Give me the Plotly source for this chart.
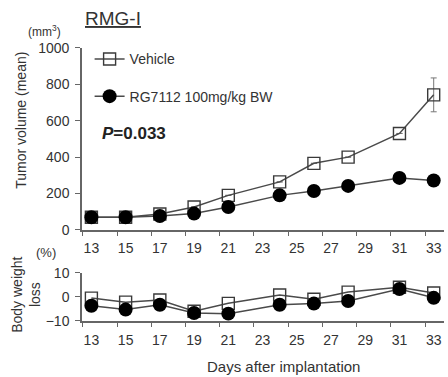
import plotly.graph_objects as go

days = [13, 15, 17, 19, 21, 24, 26, 28, 31, 33]
vehicle_tv = [70, 70, 88, 126, 190, 264, 366, 400, 530, 742]
vehicle_err = [0, 0, 0, 0, 0, 0, 0, 0, 0, 93]
rg_tv = [70, 70, 77, 90, 126, 190, 214, 242, 286, 272]
vehicle_bw = [-0.5, -2.2, -1.3, -6.0, -2.7, 0.8, -1.0, 2.0, 4.0, 1.6]
rg_bw = [-3.7, -5.3, -3.3, -6.7, -7.0, -3.3, -2.8, -1.7, 3.3, -0.4]
tick_labels = [13, 15, 17, 19, 21, 23, 25, 27, 29, 31, 33]
tick_marks = [12.5, 14.5, 16.5, 18.5, 20.5, 22.5, 24.5, 26.5, 28.5, 30.5, 32.5]

LINE = "#4a4a4a"
TXT = "#333333"
AX = "#666666"
FONT = "Liberation Sans, Arial, sans-serif"

fig = go.Figure()
sq = dict(symbol="square-open", size=12, color="#3a3a3a", line=dict(width=1.4, color="#3a3a3a"))
ci = dict(symbol="circle", size=14, color="black")

fig.add_trace(go.Scatter(x=days, y=vehicle_tv, mode="lines+markers", name="Vehicle",
                         marker=sq, line=dict(color=LINE, width=1.5),
                         error_y=dict(type="data", array=vehicle_err, color="#777777", thickness=1, width=3),
                         legendgroup="a", xaxis="x", yaxis="y"))
fig.add_trace(go.Scatter(x=days, y=rg_tv, mode="lines+markers", name="RG7112 100mg/kg BW",
                         marker=ci, line=dict(color=LINE, width=1.5),
                         legendgroup="b", xaxis="x", yaxis="y"))
fig.add_trace(go.Scatter(x=days, y=vehicle_bw, mode="lines+markers", showlegend=False,
                         marker=sq, line=dict(color=LINE, width=1.5), xaxis="x2", yaxis="y2"))
fig.add_trace(go.Scatter(x=days, y=rg_bw, mode="lines+markers", showlegend=False,
                         marker=ci, line=dict(color=LINE, width=1.5), xaxis="x2", yaxis="y2"))

xcommon = dict(range=[12.45, 33.6], tickmode="array", tickvals=tick_labels, ticktext=[str(t) for t in tick_labels],
               ticks="", showgrid=False, zeroline=False, showline=True, linecolor=AX, linewidth=1.5,
               tickfont=dict(size=14, color=TXT, family=FONT), automargin=False,
               minor=dict(tickmode="array", tickvals=tick_marks, ticks="outside", ticklen=4,
                          tickcolor=AX, tickwidth=1, showgrid=False))
ycommon = dict(ticks="outside", ticklen=5, tickcolor=AX, showgrid=False, zeroline=False,
               showline=True, linecolor=AX, linewidth=1.5, automargin=False,
               tickfont=dict(size=14, color=TXT, family=FONT), ticklabelstandoff=3)

fig.update_layout(
    width=448, height=377, margin=dict(l=0, r=0, t=0, b=0, autoexpand=False),
    paper_bgcolor="white", plot_bgcolor="white",
    font=dict(family=FONT, color=TXT, size=14),
    xaxis=dict(domain=[0.183, 0.991], anchor="y", ticklabelstandoff=4, **xcommon),
    yaxis=dict(domain=[0.39, 0.873], anchor="x", range=[0, 1000], tickvals=[0, 200, 400, 600, 800, 1000], **ycommon),
    xaxis2=dict(domain=[0.183, 0.991], anchor="y2", ticklabelstandoff=6, **xcommon),
    yaxis2=dict(domain=[0.149, 0.276], anchor="x2", range=[-10, 10], tickvals=[-10, 0, 10], **ycommon),
    legend=dict(x=0.2, y=0.885, xanchor="left", yanchor="top", bgcolor="rgba(0,0,0,0)",
                font=dict(size=14, color=TXT, family=FONT), tracegroupgap=16, itemwidth=30),
    showlegend=True,
)

def note(text, x, y, size, angle=0, color=TXT):
    fig.add_annotation(text=text, x=x, y=y, xref="paper", yref="paper", xanchor="center", yanchor="middle",
                       textangle=angle, showarrow=False, font=dict(size=size, color=color, family=FONT))

note("<u>RMG-I</u>", 0.252, 0.952, 19)
note("(mm<sup>3</sup>)", 0.100, 0.918, 12)
note("Tumor volume (mean)", 0.045, 0.68, 14, angle=-90)
note("<b><i>P</i>=0.033</b>", 0.30, 0.645, 17, color="#222222")
note("(%)", 0.103, 0.329, 13)
note("Body weight<br>loss", 0.058, 0.218, 14, angle=-90)
note("Days after implantation", 0.632, 0.029, 15)

fig.write_html("out.html")
